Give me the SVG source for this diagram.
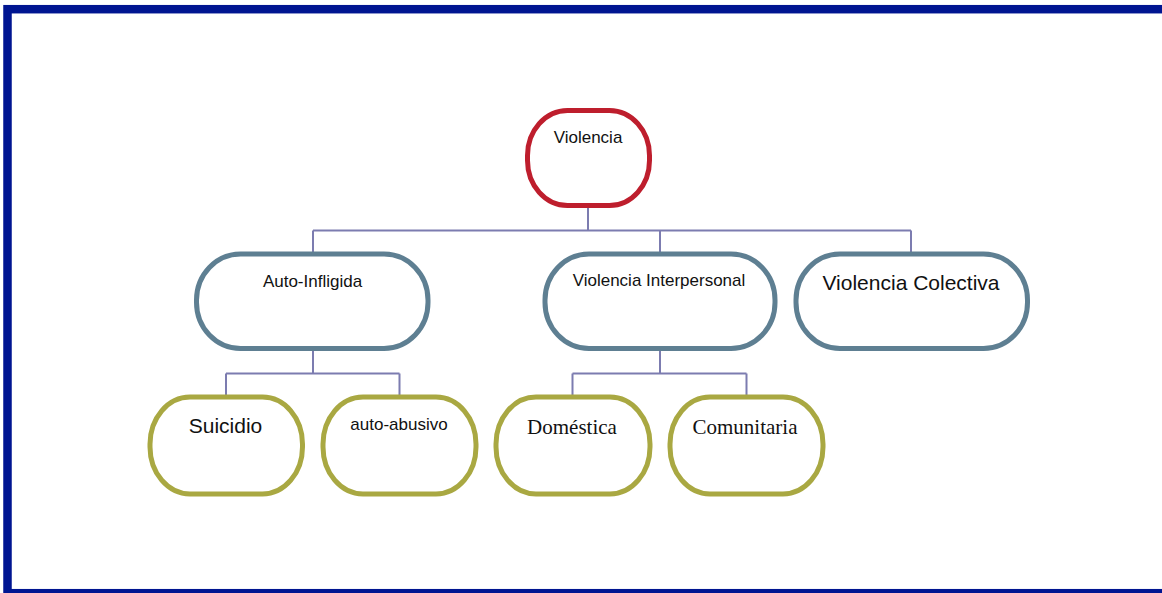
<svg xmlns="http://www.w3.org/2000/svg" width="1162" height="593" viewBox="0 0 1162 593">
<style>
.node{fill:#ffffff;stroke-width:5}
.red{stroke:#BE1E2D}
.blue{stroke:#5E7F92}
.olive{stroke:#A9A842}
.conn{fill:none;stroke:#7C7CB0;stroke-width:2}
.s{font-family:"Liberation Sans",Arial,sans-serif;fill:#111111;text-anchor:middle}
.t{font-family:"Liberation Serif","Times New Roman",serif;fill:#111111;text-anchor:middle;font-size:21px}
</style>
<rect x="0" y="0" width="1162" height="593" fill="#ffffff"/>
<rect id="frame" x="7.5" y="9.2" width="1170" height="584" fill="none" stroke="#001591" stroke-width="8.5"/>
<g id="connectors" class="conn">
<path d="M588 208 V230.5 M313 230.5 H911 M313 230.5 V252 M660 230.5 V252 M911 230.5 V252"/>
<path d="M313 351 V373.5 M226 373.5 H399.5 M226 373.5 V395 M399.5 373.5 V395"/>
<path d="M660 351 V373.5 M572.5 373.5 H746.5 M572.5 373.5 V395 M746.5 373.5 V395"/>
</g>
<g id="n-violencia">
<rect class="node red" x="527.5" y="110.5" width="122" height="95" rx="40" ry="45"/>
<text class="s" x="588" y="143" font-size="17">Violencia</text>
</g>
<g id="n-auto">
<rect class="node blue" x="196.5" y="254" width="231.5" height="94.5" rx="44" ry="46"/>
<text class="s" x="312.5" y="287" font-size="17">Auto-Infligida</text>
</g>
<g id="n-interpersonal">
<rect class="node blue" x="545" y="254" width="230" height="94.5" rx="44" ry="46"/>
<text class="s" x="659" y="286" font-size="17">Violencia Interpersonal</text>
</g>
<g id="n-colectiva">
<rect class="node blue" x="796" y="254" width="231.5" height="94.5" rx="44" ry="46"/>
<text class="s" x="911" y="290" font-size="21">Violencia Colectiva</text>
</g>
<g id="n-suicidio">
<rect class="node olive" x="150" y="397" width="152.5" height="97" rx="40" ry="47"/>
<text class="s" x="225.5" y="433" font-size="21">Suicidio</text>
</g>
<g id="n-autoabusivo">
<rect class="node olive" x="323" y="397" width="153" height="97" rx="40" ry="47"/>
<text class="s" x="399" y="430" font-size="17">auto-abusivo</text>
</g>
<g id="n-domestica">
<rect class="node olive" x="496" y="397" width="154" height="97" rx="40" ry="47"/>
<text class="t" x="572" y="434">Doméstica</text>
</g>
<g id="n-comunitaria">
<rect class="node olive" x="670" y="397" width="153" height="97" rx="40" ry="47"/>
<text class="t" x="745" y="434">Comunitaria</text>
</g>
</svg>
